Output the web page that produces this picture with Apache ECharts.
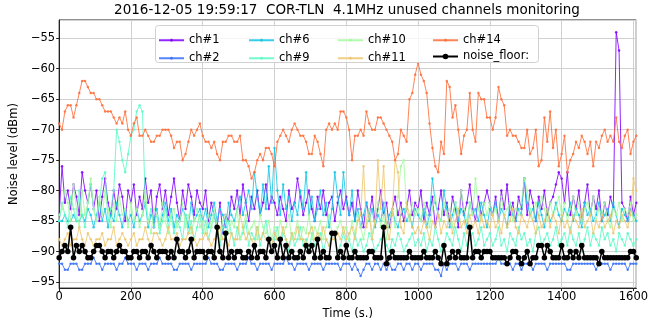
<!DOCTYPE html>
<html>
<head>
<meta charset="utf-8">
<script src="https://cdn.jsdelivr.net/npm/echarts@6/dist/echarts.min.js"></script>
<style>
  html, body { margin: 0; padding: 0; background: #fff; }
  #chart { width: 651px; height: 325px; }
</style>
</head>
<body>
<div id="chart"></div>
<script>
// one sample every 8 s, starting at t = 0
const sampleStep = 8

const ch1 = [
  -84, -76, -82, -80, -83, -79, -81, -84, -77, -80, -82, -79, -83, -80, -85, -81, -78, -82, -84, -80, -83, -79, -81, -85, -80,
  -82, -79, -84, -81, -83, -78, -82, -80, -86, -81, -79, -83, -80, -84, -81, -78, -82, -85, -80, -83, -79, -81, -84, -80, -82,
  -83, -80, -85, -82, -84, -86, -82, -87, -84, -85, -81, -83, -80, -84, -79, -82, -85, -81, -83, -80, -84, -82, -79, -83, -81,
  -82, -84, -81, -83, -85, -80, -83, -82, -78, -81, -84, -82, -80, -83, -85, -81, -83, -80, -84, -82, -81, -85, -82, -80, -83,
  -81, -84, -82, -85, -80, -83, -86, -82, -84, -81, -85, -83, -80, -84, -82, -86, -83, -81, -84, -82, -85, -83, -80, -84, -82,
  -83, -80, -85, -82, -84, -81, -86, -83, -80, -84, -82, -85, -81, -83, -86, -80, -84, -82, -79, -83, -85, -81, -84, -82, -80,
  -82, -84, -81, -85, -80, -83, -79, -84, -82, -85, -81, -83, -78, -84, -80, -82, -85, -81, -83, -80, -84, -82, -81, -79, -77,
  -78, -82, -77, -84, -81, -83, -80, -85, -82, -79, -84, -81, -83, -80, -85, -82, -84, -81, -83, -54, -57, -82, -83, -85, -81, -84, -82
]
const ch2 = [
  -92, -92, -93, -93, -92, -92, -92, -93, -93, -92, -92, -92, -91, -92, -92, -93, -92, -92, -92, -92, -93, -92, -92, -91, -92,
  -92, -92, -93, -92, -92, -92, -93, -92, -92, -92, -91, -92, -92, -92, -92, -93, -93, -92, -92, -92, -92, -93, -92, -92, -92,
  -92, -92, -91, -92, -92, -92, -93, -93, -92, -92, -92, -92, -93, -92, -92, -92, -91, -92, -92, -93, -92, -92, -92, -92, -93,
  -92, -92, -92, -92, -91, -92, -92, -93, -92, -92, -92, -92, -93, -92, -92, -92, -92, -93, -92, -92, -92, -92, -92, -93, -92,
  -92, -92, -93, -92, -93, -94, -93, -92, -92, -93, -92, -92, -93, -92, -93, -92, -93, -93, -92, -92, -93, -92, -92, -93, -92,
  -92, -93, -92, -92, -92, -92, -93, -93, -94, -92, -93, -92, -92, -92, -93, -92, -92, -92, -93, -92, -92, -92, -92, -92, -92,
  -92, -92, -92, -91, -92, -92, -92, -92, -93, -92, -92, -93, -92, -92, -92, -93, -92, -92, -92, -92, -93, -92, -92, -92, -92,
  -92, -92, -93, -93, -92, -92, -92, -92, -92, -92, -92, -92, -93, -92, -92, -92, -92, -93, -92, -92, -92, -92, -92, -93, -92, -92, -92
]
const ch6 = [
  -85, -85, -84, -85, -85, -84, -85, -85, -84, -85, -83, -84, -86, -84, -82, -85, -83, -86, -84, -85, -82, -84, -86, -83, -85,
  -84, -86, -83, -85, -84, -82, -86, -84, -85, -83, -86, -84, -82, -85, -83, -86, -84, -85, -83, -84, -86, -82, -85, -84, -83,
  -85, -83, -86, -84, -82, -85, -83, -84, -86, -82, -84, -85, -83, -81, -84, -82, -80, -83, -77, -81, -84, -79, -83, -76, -82,
  -73, -80, -84, -79, -83, -81, -85, -82, -84, -80, -83, -77, -84, -81, -85, -83, -80, -84, -82, -86, -83, -77, -81, -84, -77,
  -82, -84, -80, -85, -83, -86, -84, -82, -85, -83, -86, -84, -85, -82, -86, -84, -83, -85, -86, -84, -83, -85, -84, -86, -83,
  -84, -85, -83, -86, -84, -78, -82, -84, -85, -80, -83, -86, -84, -82, -85, -83, -84, -86, -82, -84, -83, -85, -82, -84, -86,
  -83, -84, -82, -85, -83, -84, -86, -82, -84, -85, -83, -84, -78, -82, -84, -83, -85, -82, -84, -86, -83, -85, -84, -82, -84,
  -85, -83, -84, -82, -85, -83, -84, -86, -82, -84, -83, -85, -84, -82, -85, -84, -83, -85, -82, -84, -86, -83, -84, -85, -83, -84, -85
]
const ch9 = [
  -85, -82, -84, -86, -81, -83, -85, -80, -84, -86, -82, -79, -83, -85, -82, -78, -77, -85, -83, -80, -70, -72, -75, -77, -74,
  -71, -70, -67, -66, -67, -82, -85, -83, -86, -84, -87, -85, -83, -86, -84, -87, -85, -86, -88, -84, -87, -85, -88, -86, -84,
  -87, -85, -88, -86, -84, -87, -89, -86, -88, -85, -87, -89, -86, -88, -87, -85, -89, -87, -88, -86, -89, -87, -85, -88, -89,
  -88, -86, -89, -87, -88, -90, -87, -89, -88, -86, -89, -88, -90, -87, -89, -88, -87, -90, -88, -89, -87, -88, -90, -89, -87,
  -89, -88, -90, -87, -89, -88, -90, -89, -87, -88, -90, -89, -88, -87, -89, -90, -88, -89, -87, -88, -90, -89, -88, -87, -89,
  -88, -89, -87, -90, -88, -89, -86, -88, -90, -89, -87, -88, -89, -86, -88, -90, -87, -89, -88, -87, -89, -88, -86, -89, -88,
  -87, -89, -88, -86, -89, -88, -90, -87, -88, -89, -86, -88, -87, -89, -88, -90, -87, -86, -89, -88, -87, -89, -88, -86, -89,
  -88, -87, -89, -86, -88, -89, -87, -90, -88, -86, -89, -87, -88, -89, -86, -88, -87, -89, -88, -90, -87, -88, -89, -87, -88, -89, -88
]
const ch10 = [
  -84, -83, -80, -82, -85, -79, -83, -86, -80, -84, -82, -78, -83, -85, -81, -84, -80, -83, -86, -82, -85, -81, -84, -83, -86,
  -82, -85, -83, -86, -84, -80, -85, -87, -83, -84, -86, -82, -85, -87, -84, -83, -86, -85, -82, -86, -84, -87, -85, -83, -86,
  -85, -87, -84, -86, -83, -86, -88, -85, -84, -87, -85, -86, -83, -88, -86, -84, -87, -86, -85, -88, -84, -86, -87, -85, -88,
  -86, -88, -85, -87, -86, -84, -88, -87, -85, -88, -86, -87, -84, -88, -86, -87, -85, -88, -86, -84, -87, -88, -86, -85, -87,
  -86, -88, -85, -87, -84, -86, -88, -85, -83, -87, -85, -82, -86, -84, -88, -85, -83, -86, -81, -76, -75, -83, -85, -82, -84,
  -83, -85, -82, -84, -86, -83, -81, -84, -85, -82, -84, -83, -86, -82, -84, -80, -83, -85, -82, -84, -78, -83, -85, -82, -84,
  -82, -84, -83, -85, -81, -84, -83, -82, -85, -83, -84, -82, -78, -80, -83, -85, -82, -84, -81, -83, -85, -82, -84, -83, -81,
  -84, -82, -85, -83, -81, -84, -82, -85, -83, -82, -84, -81, -85, -83, -84, -82, -85, -86, -83, -84, -82, -85, -83, -84, -82, -85, -84
]
const ch11 = [
  -88, -89, -88, -87, -89, -88, -88, -86, -88, -89, -87, -88, -89, -88, -88, -87, -89, -88, -88, -86, -89, -88, -87, -88, -89,
  -88, -87, -89, -88, -88, -86, -88, -89, -87, -87, -88, -89, -88, -86, -88, -88, -87, -89, -88, -88, -87, -86, -88, -89, -88,
  -88, -87, -88, -89, -88, -87, -86, -88, -88, -89, -87, -88, -88, -84, -86, -88, -87, -88, -89, -86, -88, -87, -88, -88, -89,
  -87, -88, -88, -86, -88, -89, -87, -88, -86, -88, -88, -89, -87, -86, -88, -87, -88, -86, -88, -89, -88, -88, -87, -88, -86,
  -88, -87, -86, -88, -85, -84, -76, -86, -84, -88, -85, -75, -83, -76, -86, -88, -84, -75, -77, -86, -87, -82, -84, -86, -87,
  -86, -87, -85, -86, -88, -85, -86, -84, -87, -85, -86, -84, -87, -85, -83, -86, -85, -87, -84, -86, -85, -87, -84, -86, -85,
  -86, -84, -86, -85, -87, -84, -86, -85, -83, -86, -87, -84, -85, -86, -84, -85, -87, -84, -86, -85, -83, -86, -84, -85, -87,
  -84, -86, -85, -87, -84, -85, -86, -83, -86, -85, -84, -87, -85, -86, -84, -86, -85, -84, -87, -85, -86, -84, -85, -86, -84, -78, -80
]
const ch14 = [
  -69, -70, -67, -66, -66, -68, -66, -64, -62, -62, -63, -64, -64, -65, -65, -66, -67, -67, -67, -68, -69, -68, -69, -67, -70,
  -71, -69, -68, -71, -71, -70, -71, -72, -72, -71, -71, -70, -70, -70, -71, -73, -72, -72, -75, -74, -72, -70, -71, -70, -69,
  -71, -72, -72, -73, -72, -74, -75, -72, -72, -71, -71, -72, -72, -71, -75, -75, -76, -78, -77, -75, -74, -75, -73, -73, -74,
  -76, -72, -71, -70, -71, -72, -70, -69, -70, -71, -71, -72, -74, -74, -71, -72, -74, -76, -70, -69, -70, -69, -70, -67, -67,
  -68, -70, -75, -71, -71, -70, -71, -67, -69, -70, -70, -68, -68, -69, -70, -71, -72, -75, -74, -70, -71, -72, -65, -64, -61,
  -59, -61, -62, -64, -69, -73, -76, -77, -72, -74, -62, -63, -68, -66, -70, -74, -71, -70, -64, -70, -72, -64, -65, -65, -68,
  -68, -70, -68, -63, -65, -66, -71, -70, -71, -71, -72, -73, -73, -70, -74, -73, -70, -76, -75, -68, -72, -67, -73, -70, -76,
  -74, -71, -77, -75, -74, -72, -73, -71, -72, -74, -72, -76, -72, -73, -71, -70, -72, -71, -72, -68, -72, -73, -71, -70, -74, -72, -71
]
const noiseFloor = [
  -91, -90, -89, -90, -86, -91, -89, -90, -89, -90, -91, -91, -90, -89, -89, -90, -91, -90, -90, -91, -90, -89, -90, -90, -91,
  -91, -90, -90, -91, -90, -90, -91, -89, -90, -91, -90, -90, -90, -91, -90, -91, -88, -90, -90, -91, -90, -88, -91, -90, -90,
  -90, -91, -90, -90, -91, -86, -90, -91, -87, -91, -90, -91, -90, -90, -91, -91, -90, -91, -89, -91, -90, -90, -91, -88, -90,
  -89, -91, -88, -91, -89, -91, -90, -91, -91, -90, -91, -89, -90, -89, -91, -88, -91, -90, -91, -91, -87, -87, -91, -90, -91,
  -89, -91, -91, -90, -91, -91, -91, -91, -90, -90, -91, -91, -91, -86, -92, -91, -90, -91, -91, -91, -91, -91, -90, -91, -91,
  -91, -91, -90, -91, -91, -91, -90, -91, -92, -89, -92, -91, -90, -91, -90, -91, -91, -91, -86, -91, -90, -90, -91, -90, -90,
  -90, -91, -91, -91, -91, -91, -92, -91, -90, -90, -91, -92, -91, -90, -92, -91, -91, -89, -89, -91, -89, -90, -91, -91, -91,
  -89, -91, -91, -90, -91, -90, -91, -89, -91, -91, -91, -91, -91, -92, -90, -91, -91, -91, -91, -91, -91, -91, -91, -91, -90, -90, -91
]

const channelNames = ['ch#1', 'ch#2', 'ch#6', 'ch#9', 'ch#10', 'ch#11', 'ch#14']
const channelValues = [ch1, ch2, ch6, ch9, ch10, ch11, ch14]
const channelColors = ['#8000ff', '#3770f9', '#12c7e6', '#5bf9c7', '#a4f99f', '#edc76f', '#ff6f39']
const yTicks = [-95, -90, -85, -80, -75, -70, -65, -60, -55]
const xTicks = [0, 200, 400, 600, 800, 1000, 1200, 1400, 1600]

const FONT = 'DejaVu Sans'
const withMinus = (v) => String(v).replace('-', '\u2212')
const toPoints = (values) => values.map((v, i) => [i * sampleStep, v])

const chart = echarts.init(document.getElementById('chart'), null, { renderer: 'canvas' })

const series = channelNames.map((name, i) => ({
  name,
  type: 'line',
  data: toPoints(channelValues[i]),
  symbol: 'circle',
  symbolSize: 2.5,
  showSymbol: true,
  showAllSymbol: true,
  lineStyle: { width: 1, color: channelColors[i], opacity: 0.85 },
  itemStyle: { color: channelColors[i], opacity: 0.85 },
  emphasis: { disabled: true },
  z: 2 + i * 0.1
}))

series.push({
  name: 'noise_floor:',
  type: 'line',
  data: toPoints(noiseFloor),
  symbol: 'circle',
  symbolSize: 5.5,
  showSymbol: true,
  showAllSymbol: true,
  lineStyle: { width: 1.5, color: '#000' },
  itemStyle: { color: '#000' },
  emphasis: { disabled: true },
  z: 3
})

// legend: 4 columns x 2 rows, one component per entry so each icon dot can have its own size
const legendCols = [158, 248, 337, 432]
const legendRows = [36, 54]
const legendEntries = [
  ['ch#1', 0, 0], ['ch#2', 0, 1], ['ch#6', 1, 0], ['ch#9', 1, 1],
  ['ch#10', 2, 0], ['ch#11', 2, 1], ['ch#14', 3, 0], ['noise_floor:', 3, 1]
]
const legends = legendEntries.map(([name, col, row]) => {
  const h = name === 'noise_floor:' ? 7 : 3.5
  return {
    data: [name],
    left: legendCols[col],
    top: legendRows[row] - h / 2,
    padding: 0,
    itemWidth: 25,
    itemHeight: h,
    textStyle: { fontFamily: FONT, fontSize: 11.5, color: '#000', lineHeight: h },
    z: 10
  }
})

chart.setOption({
  animation: false,
  backgroundColor: '#fff',
  grid: {
    left: 49, right: 7, top: 20, bottom: 33,
    show: true, borderColor: '#222', borderWidth: 1, backgroundColor: 'transparent'
  },
  graphic: [
    {
      type: 'text', x: 347, y: 10, z: 10,
      style: {
        text: '2016-12-05 19:59:17  COR-TLN  4.1MHz unused channels monitoring',
        fontFamily: FONT, fontSize: 13.5, fill: '#000',
        textAlign: 'center', textVerticalAlign: 'middle'
      }
    },
    {
      type: 'rect', z: 9,
      shape: { x: 155.5, y: 25.5, width: 383, height: 37, r: 3 },
      style: { fill: 'rgba(255,255,255,0.8)', stroke: '#d0d0d0', lineWidth: 1 }
    }
  ],
  legend: legends,
  xAxis: {
    type: 'value',
    min: 0,
    max: 1608,
    interval: 200,
    name: 'Time (s.)',
    nameLocation: 'middle',
    nameGap: 15,
    nameTextStyle: { fontFamily: FONT, fontSize: 11.5, color: '#000' },
    axisLine: { show: true, lineStyle: { color: '#222', width: 1 } },
    axisTick: { show: true, inside: false, length: 3, lineStyle: { color: '#222' } },
    axisLabel: {
      fontFamily: FONT, fontSize: 11.5, color: '#000', margin: 3,
      showMaxLabel: false,
      formatter: (v) => (xTicks.indexOf(v) >= 0 ? withMinus(v) : '')
    },
    splitLine: { show: true, lineStyle: { color: '#d0d0d0', width: 1 } }
  },
  yAxis: {
    type: 'value',
    min: -96,
    max: -52,
    splitNumber: 9,
    name: 'Noise level (dBm)',
    nameLocation: 'middle',
    nameGap: 35,
    nameRotate: 90,
    nameTextStyle: { fontFamily: FONT, fontSize: 11.5, color: '#000' },
    axisLine: { show: true, lineStyle: { color: '#222', width: 1 } },
    axisTick: { show: true, inside: false, length: 3, lineStyle: { color: '#222' } },
    axisLabel: {
      fontFamily: FONT, fontSize: 11.5, color: '#000', margin: 4,
      showMinLabel: false, showMaxLabel: false,
      formatter: (v) => (yTicks.indexOf(v) >= 0 ? withMinus(v) : '')
    },
    splitLine: { show: true, lineStyle: { color: '#d0d0d0', width: 1 } }
  },
  series
})
</script>
</body>
</html>
